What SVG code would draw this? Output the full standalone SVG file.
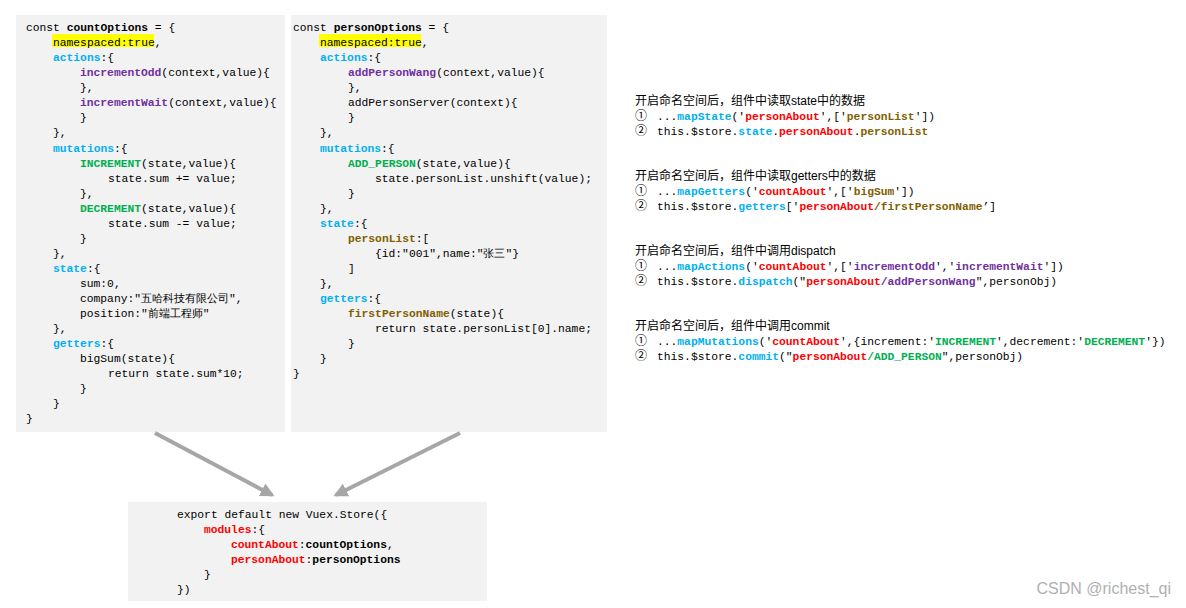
<svg xmlns="http://www.w3.org/2000/svg" width="1186" height="608" viewBox="0 0 1186 608">
<style>
.c{font-family:"Liberation Mono","DejaVu Sans Mono",monospace;font-size:11.3px;fill:#000}
.cn{font-family:"Liberation Sans","Noto Sans CJK SC",sans-serif;font-size:12px;fill:#000}
.b{font-weight:bold}
.bl{fill:#00b0f0;font-weight:bold}
.pu{fill:#7030a0;font-weight:bold}
.gr{fill:#00b050;font-weight:bold}
.rd{fill:#ff0000;font-weight:bold}
.ol{fill:#7f6000;font-weight:bold}
.box{fill:#f2f2f2}
.hl{fill:#ffff00}
.arr{stroke:#a6a6a6;stroke-width:4;fill:none}
</style>
<defs><marker id="ah" viewBox="0 0 10 10" refX="8" refY="5" markerWidth="3.5" markerHeight="3.5" orient="auto"><path d="M0,0L10,5L0,10z" fill="#a6a6a6"/></marker></defs>
<rect width="1186" height="608" fill="#fff"/>
<g id="countOptions">
<rect class="box" x="16" y="15" width="269" height="417"/>
<rect class="hl" x="52" y="34" width="102" height="13"/>
<text class="c" x="26" y="31">const <tspan class="b">countOptions</tspan> = {</text>
<text class="c" x="53" y="46">namespaced:true,</text>
<text class="c" x="53" y="61"><tspan class="bl">actions</tspan>:{</text>
<text class="c" x="80" y="76"><tspan class="pu">incrementOdd</tspan>(context,value){</text>
<text class="c" x="80" y="91">},</text>
<text class="c" x="80" y="106"><tspan class="pu">incrementWait</tspan>(context,value){</text>
<text class="c" x="80" y="121">}</text>
<text class="c" x="53" y="136">},</text>
<text class="c" x="53" y="152"><tspan class="bl">mutations</tspan>:{</text>
<text class="c" x="80" y="167"><tspan class="gr">INCREMENT</tspan>(state,value){</text>
<text class="c" x="108" y="182">state.sum += value;</text>
<text class="c" x="80" y="197">},</text>
<text class="c" x="80" y="212"><tspan class="gr">DECREMENT</tspan>(state,value){</text>
<text class="c" x="108" y="227">state.sum -= value;</text>
<text class="c" x="80" y="242">}</text>
<text class="c" x="53" y="257">},</text>
<text class="c" x="53" y="272"><tspan class="bl">state</tspan>:{</text>
<text class="c" x="80" y="287">sum:0,</text>
<text class="c" x="80" y="302">company:"五哈科技有限公司",</text>
<text class="c" x="80" y="317">position:"前端工程师"</text>
<text class="c" x="53" y="332">},</text>
<text class="c" x="53" y="347"><tspan class="bl">getters</tspan>:{</text>
<text class="c" x="80" y="362">bigSum(state){</text>
<text class="c" x="108" y="377">return state.sum*10;</text>
<text class="c" x="80" y="392">}</text>
<text class="c" x="53" y="407">}</text>
<text class="c" x="26" y="422">}</text>
</g>
<g id="personOptions">
<rect class="box" x="291" y="15" width="316" height="417"/>
<rect class="hl" x="319" y="34" width="102" height="13"/>
<text class="c" x="293" y="31">const <tspan class="b">personOptions</tspan> = {</text>
<text class="c" x="320" y="46">namespaced:true,</text>
<text class="c" x="320" y="61"><tspan class="bl">actions</tspan>:{</text>
<text class="c" x="348" y="76"><tspan class="pu">addPersonWang</tspan>(context,value){</text>
<text class="c" x="348" y="91">},</text>
<text class="c" x="348" y="106">addPersonServer(context){</text>
<text class="c" x="348" y="121">}</text>
<text class="c" x="320" y="136">},</text>
<text class="c" x="320" y="152"><tspan class="bl">mutations</tspan>:{</text>
<text class="c" x="348" y="167"><tspan class="gr">ADD_PERSON</tspan>(state,value){</text>
<text class="c" x="375" y="182">state.personList.unshift(value);</text>
<text class="c" x="348" y="197">}</text>
<text class="c" x="320" y="212">},</text>
<text class="c" x="320" y="227"><tspan class="bl">state</tspan>:{</text>
<text class="c" x="348" y="242"><tspan class="ol">personList</tspan>:[</text>
<text class="c" x="375" y="257">{id:"001",name:"张三"}</text>
<text class="c" x="348" y="272">]</text>
<text class="c" x="320" y="287">},</text>
<text class="c" x="320" y="302"><tspan class="bl">getters</tspan>:{</text>
<text class="c" x="348" y="317"><tspan class="ol">firstPersonName</tspan>(state){</text>
<text class="c" x="375" y="332">return state.personList[0].name;</text>
<text class="c" x="348" y="347">}</text>
<text class="c" x="320" y="362">}</text>
<text class="c" x="293" y="377">}</text>
</g>
<g id="store">
<rect class="box" x="128" y="502" width="359" height="99"/>
<text class="c" x="177" y="518">export default new Vuex.Store({</text>
<text class="c" x="204" y="533"><tspan class="rd">modules</tspan>:{</text>
<text class="c" x="231" y="548"><tspan class="rd">countAbout</tspan>:<tspan class="b">countOptions</tspan>,</text>
<text class="c" x="231" y="563"><tspan class="rd">personAbout</tspan>:<tspan class="b">personOptions</tspan></text>
<text class="c" x="204" y="578">}</text>
<text class="c" x="177" y="593">})</text>
</g>
<g id="connectors">
<line class="arr" x1="155" y1="433" x2="272" y2="495" marker-end="url(#ah)"/>
<line class="arr" x1="460" y1="433" x2="336" y2="495" marker-end="url(#ah)"/>
</g>
<g id="notes">
<text class="cn" x="635" y="105">开启命名空间后，组件中读取state中的数据</text>
<text class="cn" x="635" y="120">①</text><text class="c" x="657" y="120">...<tspan class="bl">mapState</tspan>('<tspan class="rd">personAbout</tspan>',['<tspan class="ol">personList</tspan>'])</text>
<text class="cn" x="635" y="135">②</text><text class="c" x="657" y="135">this.$store.<tspan class="bl">state</tspan>.<tspan class="rd">personAbout</tspan>.<tspan class="ol">personList</tspan></text>
<text class="cn" x="635" y="180">开启命名空间后，组件中读取getters中的数据</text>
<text class="cn" x="635" y="195">①</text><text class="c" x="657" y="195">...<tspan class="bl">mapGetters</tspan>('<tspan class="rd">countAbout</tspan>',['<tspan class="ol">bigSum</tspan>'])</text>
<text class="cn" x="635" y="210">②</text><text class="c" x="657" y="210">this.$store.<tspan class="bl">getters</tspan>['<tspan class="rd">personAbout</tspan><tspan class="ol">/firstPersonName</tspan>’]</text>
<text class="cn" x="635" y="255">开启命名空间后，组件中调用dispatch</text>
<text class="cn" x="635" y="270">①</text><text class="c" x="657" y="270">...<tspan class="bl">mapActions</tspan>('<tspan class="rd">countAbout</tspan>',['<tspan class="pu">incrementOdd</tspan>','<tspan class="pu">incrementWait</tspan>'])</text>
<text class="cn" x="635" y="285">②</text><text class="c" x="657" y="285">this.$store.<tspan class="bl">dispatch</tspan>("<tspan class="rd">personAbout</tspan><tspan class="pu">/addPersonWang</tspan>",personObj)</text>
<text class="cn" x="635" y="330">开启命名空间后，组件中调用commit</text>
<text class="cn" x="635" y="345">①</text><text class="c" x="657" y="345">...<tspan class="bl">mapMutations</tspan>('<tspan class="rd">countAbout</tspan>',{increment:'<tspan class="gr">INCREMENT</tspan>',decrement:'<tspan class="gr">DECREMENT</tspan>'})</text>
<text class="cn" x="635" y="360">②</text><text class="c" x="657" y="360">this.$store.<tspan class="bl">commit</tspan>("<tspan class="rd">personAbout</tspan><tspan class="gr">/ADD_PERSON</tspan>",personObj)</text>
</g>
<text x="1171" y="594" text-anchor="end" style="font-family:'Liberation Sans',sans-serif;font-size:16px;fill:#b0b0b0">CSDN @richest_qi</text>
</svg>
